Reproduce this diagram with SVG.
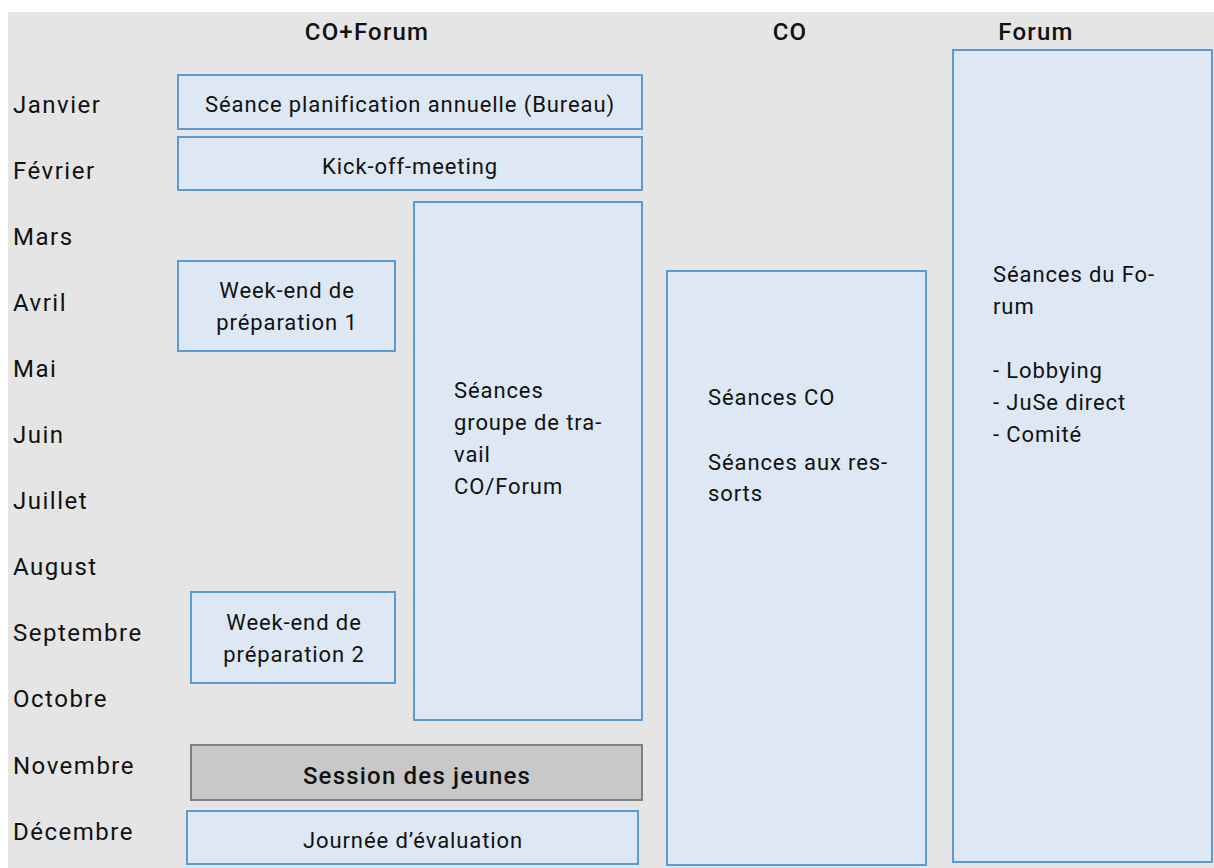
<svg xmlns="http://www.w3.org/2000/svg" width="1214" height="868" viewBox="0 0 1214 868">
<style>
text{font-family:Roboto,"Liberation Sans",sans-serif;fill:#111;}
.m{font-size:24px;letter-spacing:1.5px;}
.h{font-size:24px;font-weight:500;letter-spacing:1.2px;text-anchor:middle;}
.t{font-size:22px;letter-spacing:0.9px;}
.c{text-anchor:middle;}
.b{fill:#dde8f4;stroke:#5b9bd5;stroke-width:2;}
.g{fill:#c8c8c8;stroke:#808080;stroke-width:2;}
</style>
<rect x="0" y="0" width="1214" height="868" fill="#fff"/>
<rect x="8" y="12" width="1206" height="856" fill="#e5e5e5"/>
<g id="headers">
<text class="h" x="367" y="40">CO+Forum</text>
<text class="h" x="790" y="40">CO</text>
<text class="h" x="1036" y="40">Forum</text>
</g>
<g id="months">
<text class="m" x="13" y="113">Janvier</text>
<text class="m" x="13" y="179">Février</text>
<text class="m" x="13" y="245">Mars</text>
<text class="m" x="13" y="311">Avril</text>
<text class="m" x="13" y="377">Mai</text>
<text class="m" x="13" y="443">Juin</text>
<text class="m" x="13" y="509">Juillet</text>
<text class="m" x="13" y="575">August</text>
<text class="m" x="13" y="641">Septembre</text>
<text class="m" x="13" y="707">Octobre</text>
<text class="m" x="13" y="774">Novembre</text>
<text class="m" x="13" y="840">Décembre</text>
</g>
<g id="n-planif">
<rect class="b" x="178" y="75" width="464" height="54"/>
<text class="t c" x="410" y="112">Séance planification annuelle (Bureau)</text>
</g>
<g id="n-kickoff">
<rect class="b" x="178" y="137" width="464" height="53"/>
<text class="t c" x="410" y="174">Kick-off-meeting</text>
</g>
<g id="n-groupe">
<rect class="b" x="414" y="202" width="228" height="518"/>
<text class="t" x="454" y="398">Séances</text>
<text class="t" x="454" y="430">groupe de tra-</text>
<text class="t" x="454" y="462">vail</text>
<text class="t" x="454" y="494">CO/Forum</text>
</g>
<g id="n-we1">
<rect class="b" x="178" y="261" width="217" height="90"/>
<text class="t c" x="287" y="298">Week-end de</text>
<text class="t c" x="287" y="330">préparation 1</text>
</g>
<g id="n-we2">
<rect class="b" x="191" y="592" width="204" height="91"/>
<text class="t c" x="294" y="630">Week-end de</text>
<text class="t c" x="294" y="662">préparation 2</text>
</g>
<g id="n-session">
<rect class="g" x="191" y="745" width="451" height="55"/>
<text class="c" x="417" y="784" style="font-size:24px;font-weight:500;letter-spacing:1.2px">Session des jeunes</text>
</g>
<g id="n-eval">
<rect class="b" x="187" y="811" width="451" height="53"/>
<text class="t c" x="413" y="848">Journée d’évaluation</text>
</g>
<g id="n-co">
<rect class="b" x="667" y="271" width="259" height="594"/>
<text class="t" x="708" y="405">Séances CO</text>
<text class="t" x="708" y="470">Séances aux res-</text>
<text class="t" x="708" y="501">sorts</text>
</g>
<g id="n-forum">
<rect class="b" x="953" y="50" width="259" height="812"/>
<text class="t" x="993" y="282">Séances du Fo-</text>
<text class="t" x="993" y="314">rum</text>
<text class="t" x="993" y="378">- Lobbying</text>
<text class="t" x="993" y="410">- JuSe direct</text>
<text class="t" x="993" y="442">- Comité</text>
</g>
<g id="connectors"></g>
</svg>
